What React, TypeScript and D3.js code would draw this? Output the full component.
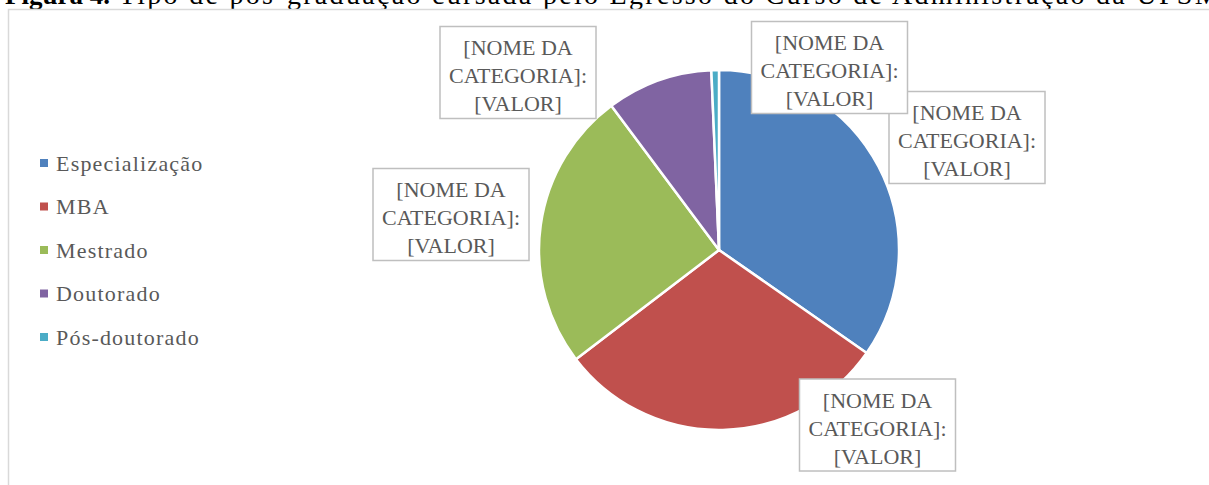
import React from "react";
import * as d3 from "d3";

const categories = ["Especialização", "MBA", "Mestrado", "Doutorado", "Pós-doutorado"];
const values = [51, 44, 37, 14, 1];
const colors = ["#4f81bd", "#c0504d", "#9bbb59", "#8064a2", "#4bacc6"];
const labelLines = ["[NOME DA", "CATEGORIA]:", "[VALOR]"];
const titleBold = "Figura 4.";
const titleRest = " Tipo de pós-graduação cursada pelo Egresso do Curso de Administração da UFSM";

// layout (box centers for each slice label, in order of categories)
const labelCenters: [number, number][] = [
  [967, 137.5],
  [877.5, 425],
  [451, 214.5],
  [518, 72.5],
  [829.5, 67.5],
];

const W = 1209;
const H = 485;
const cx = 719;
const cy = 250;
const R = 180;
const textColor = "#595959";
const font = "'Liberation Serif', 'Times New Roman', serif";

export default function App() {
  const pie = d3.pie<number>().sort(null).value((d) => d)(values);
  const arc = d3.arc<d3.PieArcDatum<number>>().innerRadius(0).outerRadius(R);
  const legendY = d3.scalePoint<string>().domain(categories).range([163, 337]);
  const boxW = 156;
  const boxH = 92;

  return (
    <svg
      width={W}
      height={H}
      style={{ position: "absolute", left: 0, top: 0, background: "#fff" }}
      fontFamily={font}
    >
      <text x={5} y={4} fontSize={28} fill="#000">
        <tspan fontWeight="bold" fontSize={27}>{titleBold}</tspan>
        <tspan letterSpacing={2.3}>{titleRest}</tspan>
      </text>
      <rect x={8.5} y={9.5} width={1400} height={600} fill="#fff" stroke="#d9d9d9" strokeWidth={1.5} />

      <g transform={`translate(${cx},${cy})`}>
        {pie.map((p, i) => (
          <path key={i} d={arc(p) || ""} fill={colors[i]} stroke="#fff" strokeWidth={2.5} strokeLinejoin="round" />
        ))}
      </g>

      {labelCenters.map(([x, y], i) => (
        <g key={i} transform={`translate(${x},${y})`}>
          <rect x={-boxW / 2} y={-boxH / 2} width={boxW} height={boxH} fill="#fff" stroke="#bfbfbf" strokeWidth={1.5} />
          {labelLines.map((t, j) => (
            <text
              key={j}
              x={0}
              y={-boxH / 2 + 21 + j * 28}
              dy="0.35em"
              textAnchor="middle"
              fontSize={22}
              fill={textColor}
            >
              {t}
            </text>
          ))}
        </g>
      ))}

      {categories.map((c, i) => (
        <g key={c} transform={`translate(0,${legendY(c)})`}>
          <rect x={40} y={-4} width={8} height={8} fill={colors[i]} />
          <text x={56} y={0} dy="0.35em" fontSize={22} letterSpacing={1.2} fill={textColor}>
            {c}
          </text>
        </g>
      ))}
    </svg>
  );
}
